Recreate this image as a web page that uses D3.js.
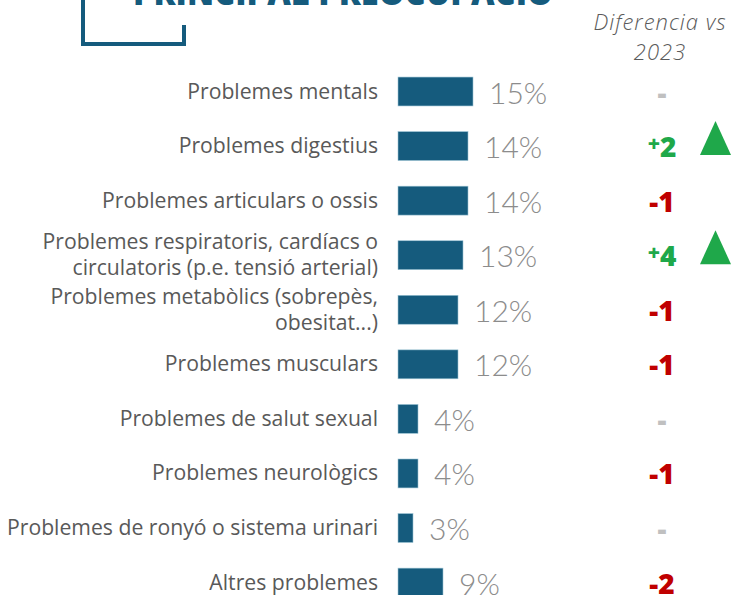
<!DOCTYPE html>
<html>
<head>
<meta charset="utf-8">
<script src="https://cdn.jsdelivr.net/npm/d3@7"></script>
<style>
  body { margin: 0; background: #fff; }
  svg { display: block; }
</style>
</head>
<body>
<svg id="chart" width="731" height="595"></svg>
<script>
// categories, values (%) and difference vs 2023 (null = no change)
let categories = [
  ["Problemes mentals"],
  ["Problemes digestius"],
  ["Problemes articulars o ossis"],
  ["Problemes respiratoris, cardíacs o", "circulatoris (p.e. tensió arterial)"],
  ["Problemes metabòlics (sobrepès,", "obesitat...)"],
  ["Problemes musculars"],
  ["Problemes de salut sexual"],
  ["Problemes neurològics"],
  ["Problemes de ronyó o sistema urinari"],
  ["Altres problemes"]
];
let values = [15, 14, 14, 13, 12, 12, 4, 4, 3, 9];
let diffs = [null, 2, -1, 4, -1, -1, null, -1, null, -2];

let title = "PRINCIPAL PREOCUPACIÓ";
let colHeader = ["Diferencia vs", "2023"];

let blue = "#155b7d";
let svg = d3.select("#chart");

let rows = values.map(function (v, i) {
  return { id: i, label: categories[i], value: v, diff: diffs[i] };
});

// scales
let y = d3.scaleBand()
  .domain(rows.map(d => d.id))
  .range([51.4, 622.7])
  .padding(0.47);

let x = d3.scaleLinear()
  .domain([0, 15])
  .range([398, 473]);

// title (cut at top) and bracket
svg.append("text")
  .attr("x", 133)
  .attr("y", 5)
  .attr("textLength", 420)
  .attr("lengthAdjust", "spacingAndGlyphs")
  .style("font-family", "'Open Sans', sans-serif")
  .style("font-weight", 800)
  .style("font-size", "36px")
  .style("fill", blue)
  .text(title);

svg.append("path")
  .attr("d", "M83,0 V44 H184 V25")
  .attr("fill", "none")
  .attr("stroke", blue)
  .attr("stroke-width", 4);

// column header
svg.append("text")
  .attr("x", 660)
  .attr("y", 30)
  .attr("text-anchor", "middle")
  .style("font-family", "'Open Sans', sans-serif")
  .style("font-style", "italic")
  .style("font-weight", 300)
  .style("font-size", "22px")
  .style("letter-spacing", "1px")
  .style("fill", "#5a5a5a")
  .selectAll("tspan")
  .data(colHeader)
  .enter()
  .append("tspan")
  .attr("x", 660)
  .attr("dy", (d, i) => i == 0 ? 0 : 30)
  .text(d => d);

let g = svg.append("g");

// bars
g.selectAll("rect")
  .data(rows)
  .enter()
  .append("rect")
  .attr("x", x(0))
  .attr("y", d => y(d.id))
  .attr("width", d => x(d.value) - x(0))
  .attr("height", y.bandwidth())
  .attr("fill", blue)
  .attr("stroke", "#9cc3d4")
  .attr("stroke-width", 0.6);

// category labels
let labels = g.selectAll(".cat")
  .data(rows)
  .enter()
  .append("text")
  .attr("class", "cat")
  .attr("text-anchor", "end")
  .style("font-family", "'Open Sans', sans-serif")
  .style("font-size", "21.2px")
  .style("fill", "#595959");

labels.each(function (d) {
  let cy = y(d.id) + y.bandwidth() / 2;
  let n = d.label.length;
  let lh = 26;
  d3.select(this).selectAll("tspan")
    .data(d.label)
    .enter()
    .append("tspan")
    .attr("x", 378)
    .attr("y", (t, i) => cy + 7 + (i - (n - 1) / 2) * lh)
    .text(t => t);
});

// value labels
g.selectAll(".val")
  .data(rows)
  .enter()
  .append("text")
  .attr("class", "val")
  .attr("x", d => x(d.value) + 16)
  .attr("y", d => y(d.id) + y.bandwidth() / 2 + 12)
  .style("font-family", "Lato, sans-serif")
  .style("font-weight", 300)
  .style("font-size", "30px")
  .style("fill", "#8c8c8c")
  .text(d => d.value + "%");

// differences vs 2023
let dt = g.selectAll(".diff")
  .data(rows)
  .enter()
  .append("text")
  .attr("class", "diff")
  .attr("x", 662)
  .attr("y", d => y(d.id) + y.bandwidth() / 2 + 11)
  .attr("text-anchor", "middle")
  .style("font-family", "'Open Sans', sans-serif")
  .style("font-weight", 800)
  .style("font-size", "28px")
  .style("fill", d => d.diff == null ? "#c0c0c0" : (d.diff > 0 ? "#1fa84a" : "#c00000"));

dt.each(function (d) {
  let t = d3.select(this);
  if (d.diff == null) {
    t.text("-");
  } else if (d.diff > 0) {
    t.append("tspan").style("font-size", "21px").attr("dy", -6).text("+");
    t.append("tspan").attr("dy", 6).text(d.diff);
  } else {
    t.text("-" + Math.abs(d.diff));
  }
});

// up arrows for increases
g.selectAll(".up")
  .data(rows.filter(d => d.diff != null && d.diff > 0))
  .enter()
  .append("path")
  .attr("class", "up")
  .attr("d", function (d) {
    let cy = y(d.id) + y.bandwidth() / 2;
    return "M700," + (cy + 9) + " L715.5," + (cy - 25) + " L731," + (cy + 9) + " Z";
  })
  .attr("fill", "#1fa84a");
</script>
</body>
</html>
